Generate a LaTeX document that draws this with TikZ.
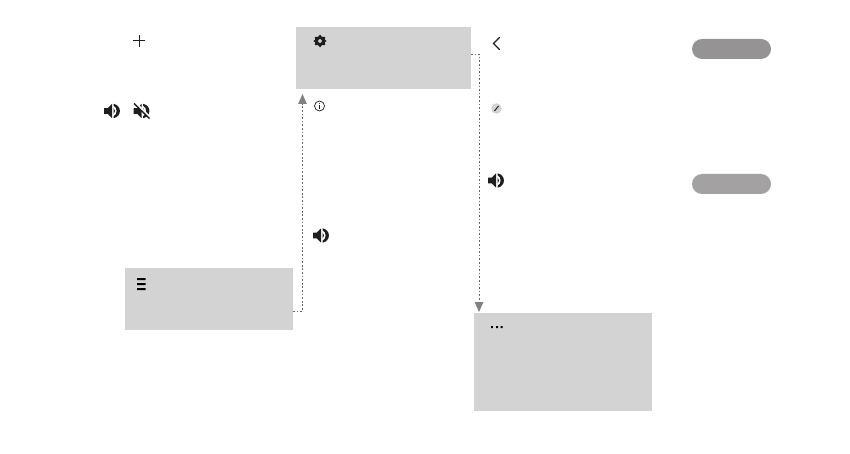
\documentclass[tikz,border=0pt]{standalone}
\usetikzlibrary{arrows.meta,calc}
\tikzset{
  x=1pt,y=-1pt,
  panel/.style={fill=panelgray,draw=none,inner sep=0pt,outer sep=0pt,anchor=north west},
  pill/.style={draw=none,inner sep=0pt,outer sep=0pt,anchor=north west,rounded corners=10pt,minimum width=79pt,minimum height=20pt},
  link/.style={draw=linkgray,line width=0.9pt,dash pattern=on 1.7pt off 1.9pt},
  linkarrow/.style={link,-{Triangle[length=10pt,width=8.5pt,fill=arrowgray,color=arrowgray,sep=0pt]}},
  iconline/.style={draw=icondark,line width=1pt,line cap=round},
  speaker/.pic={
    \fill[icondark] (-8,-2.8) -- (-4.4,-2.8) -- (0,-7) -- (0,7) -- (-4.4,2.8) -- (-8,2.8) -- cycle;
    \fill[icondark] (1.6,-7.2) .. controls (10,-5.5) and (10,5.5) .. (1.6,7.2)
      -- (1.6,5.2) .. controls (5.6,3.8) and (5.6,-3.8) .. (1.6,-5.2) -- cycle;
    \fill[icondark] (1.6,-3) .. controls (3.6,-1.6) and (3.6,1.6) .. (1.6,3) -- cycle;
  }
}
\definecolor{panelgray}{HTML}{D3D3D3}
\definecolor{linkgray}{HTML}{666666}
\definecolor{arrowgray}{HTML}{808080}
\definecolor{icondark}{HTML}{1E1E1E}
\definecolor{pillone}{HTML}{959393}
\definecolor{pilltwo}{HTML}{A3A1A1}
\begin{document}
\begin{tikzpicture}
\useasboundingbox (0,0) rectangle (850,454);
% panels
\node[panel,minimum width=168pt,minimum height=62pt] (menu) at (125,268) {};
\node[panel,minimum width=175pt,minimum height=62pt] (settings) at (296,27) {};
\node[panel,minimum width=178pt,minimum height=98pt] (more) at (474,313) {};
% pills
\node[pill,fill=pillone] (pilla) at (692,39) {};
\node[pill,fill=pilltwo] (pillb) at (692,174) {};
% connectors
\coordinate (menuout) at ($(menu.north east)+(0,43)$);
\coordinate (settingsout) at ($(settings.north east)+(0,27)$);
\coordinate (turna) at (302.5,311);
\coordinate (turnb) at (479,54);
\coordinate (inA) at (302.5,94);
\coordinate (inB) at (479,312);
\draw[linkarrow] (menuout) -- (turna) -- (inA);
\draw[linkarrow] (settingsout) -- (turnb) -- (inB);
% plus
\draw[iconline,line cap=butt] (133,41) -- (145,41) (139,35) -- (139,47);
% chevron
\draw[iconline,line width=1.2pt,line join=miter] (499.5,37.5) -- (493.5,43.5) -- (499.5,49.5);
% speakers
\pic at (112,111) {speaker};
\pic at (321,235.5) {speaker};
\pic at (496,180.5) {speaker};
% muted speaker
\pic at (141.5,111) {speaker};
\draw[white,line width=2.2pt] (135.5,103) -- (150.5,118);
\draw[icondark,line width=1.4pt] (134,103.5) -- (149.5,118.5);
% gear
\fill[icondark,even odd rule]
  plot[smooth cycle,tension=0.15] coordinates {
    (320,34.6) (321.9,36.9) (325.2,36.8) (324.8,39.6) (326.6,41) (324.8,42.4) (325.2,45.2)
    (321.9,45.1) (320,47.4) (318.1,45.1) (314.8,45.2) (315.2,42.4) (313.4,41) (315.2,39.6) (314.8,36.8) (318.1,36.9)
  }
  (320,41) circle[radius=2];
% info
\draw[icondark,line width=0.7pt] (319.5,106) circle[radius=5];
\fill[icondark] (319.5,103.4) circle[radius=0.55];
\draw[icondark,line width=0.8pt] (319.5,105) -- (319.5,108.8);
% pencil badge
\fill[panelgray] (496.5,108.5) circle[radius=5.3];
\draw[icondark,line width=1pt] (494.5,111) -- (498.5,106);
% hamburger
\fill[black] (137,278) rectangle (145.5,280.2) (137,283) rectangle (145.5,285.2) (137,288) rectangle (145.5,290.2);
% dots
\fill[black] (491.2,326) rectangle (492.8,328) (496,326) rectangle (498,328) (500.5,326) rectangle (502.5,328);
\end{tikzpicture}
\end{document}
